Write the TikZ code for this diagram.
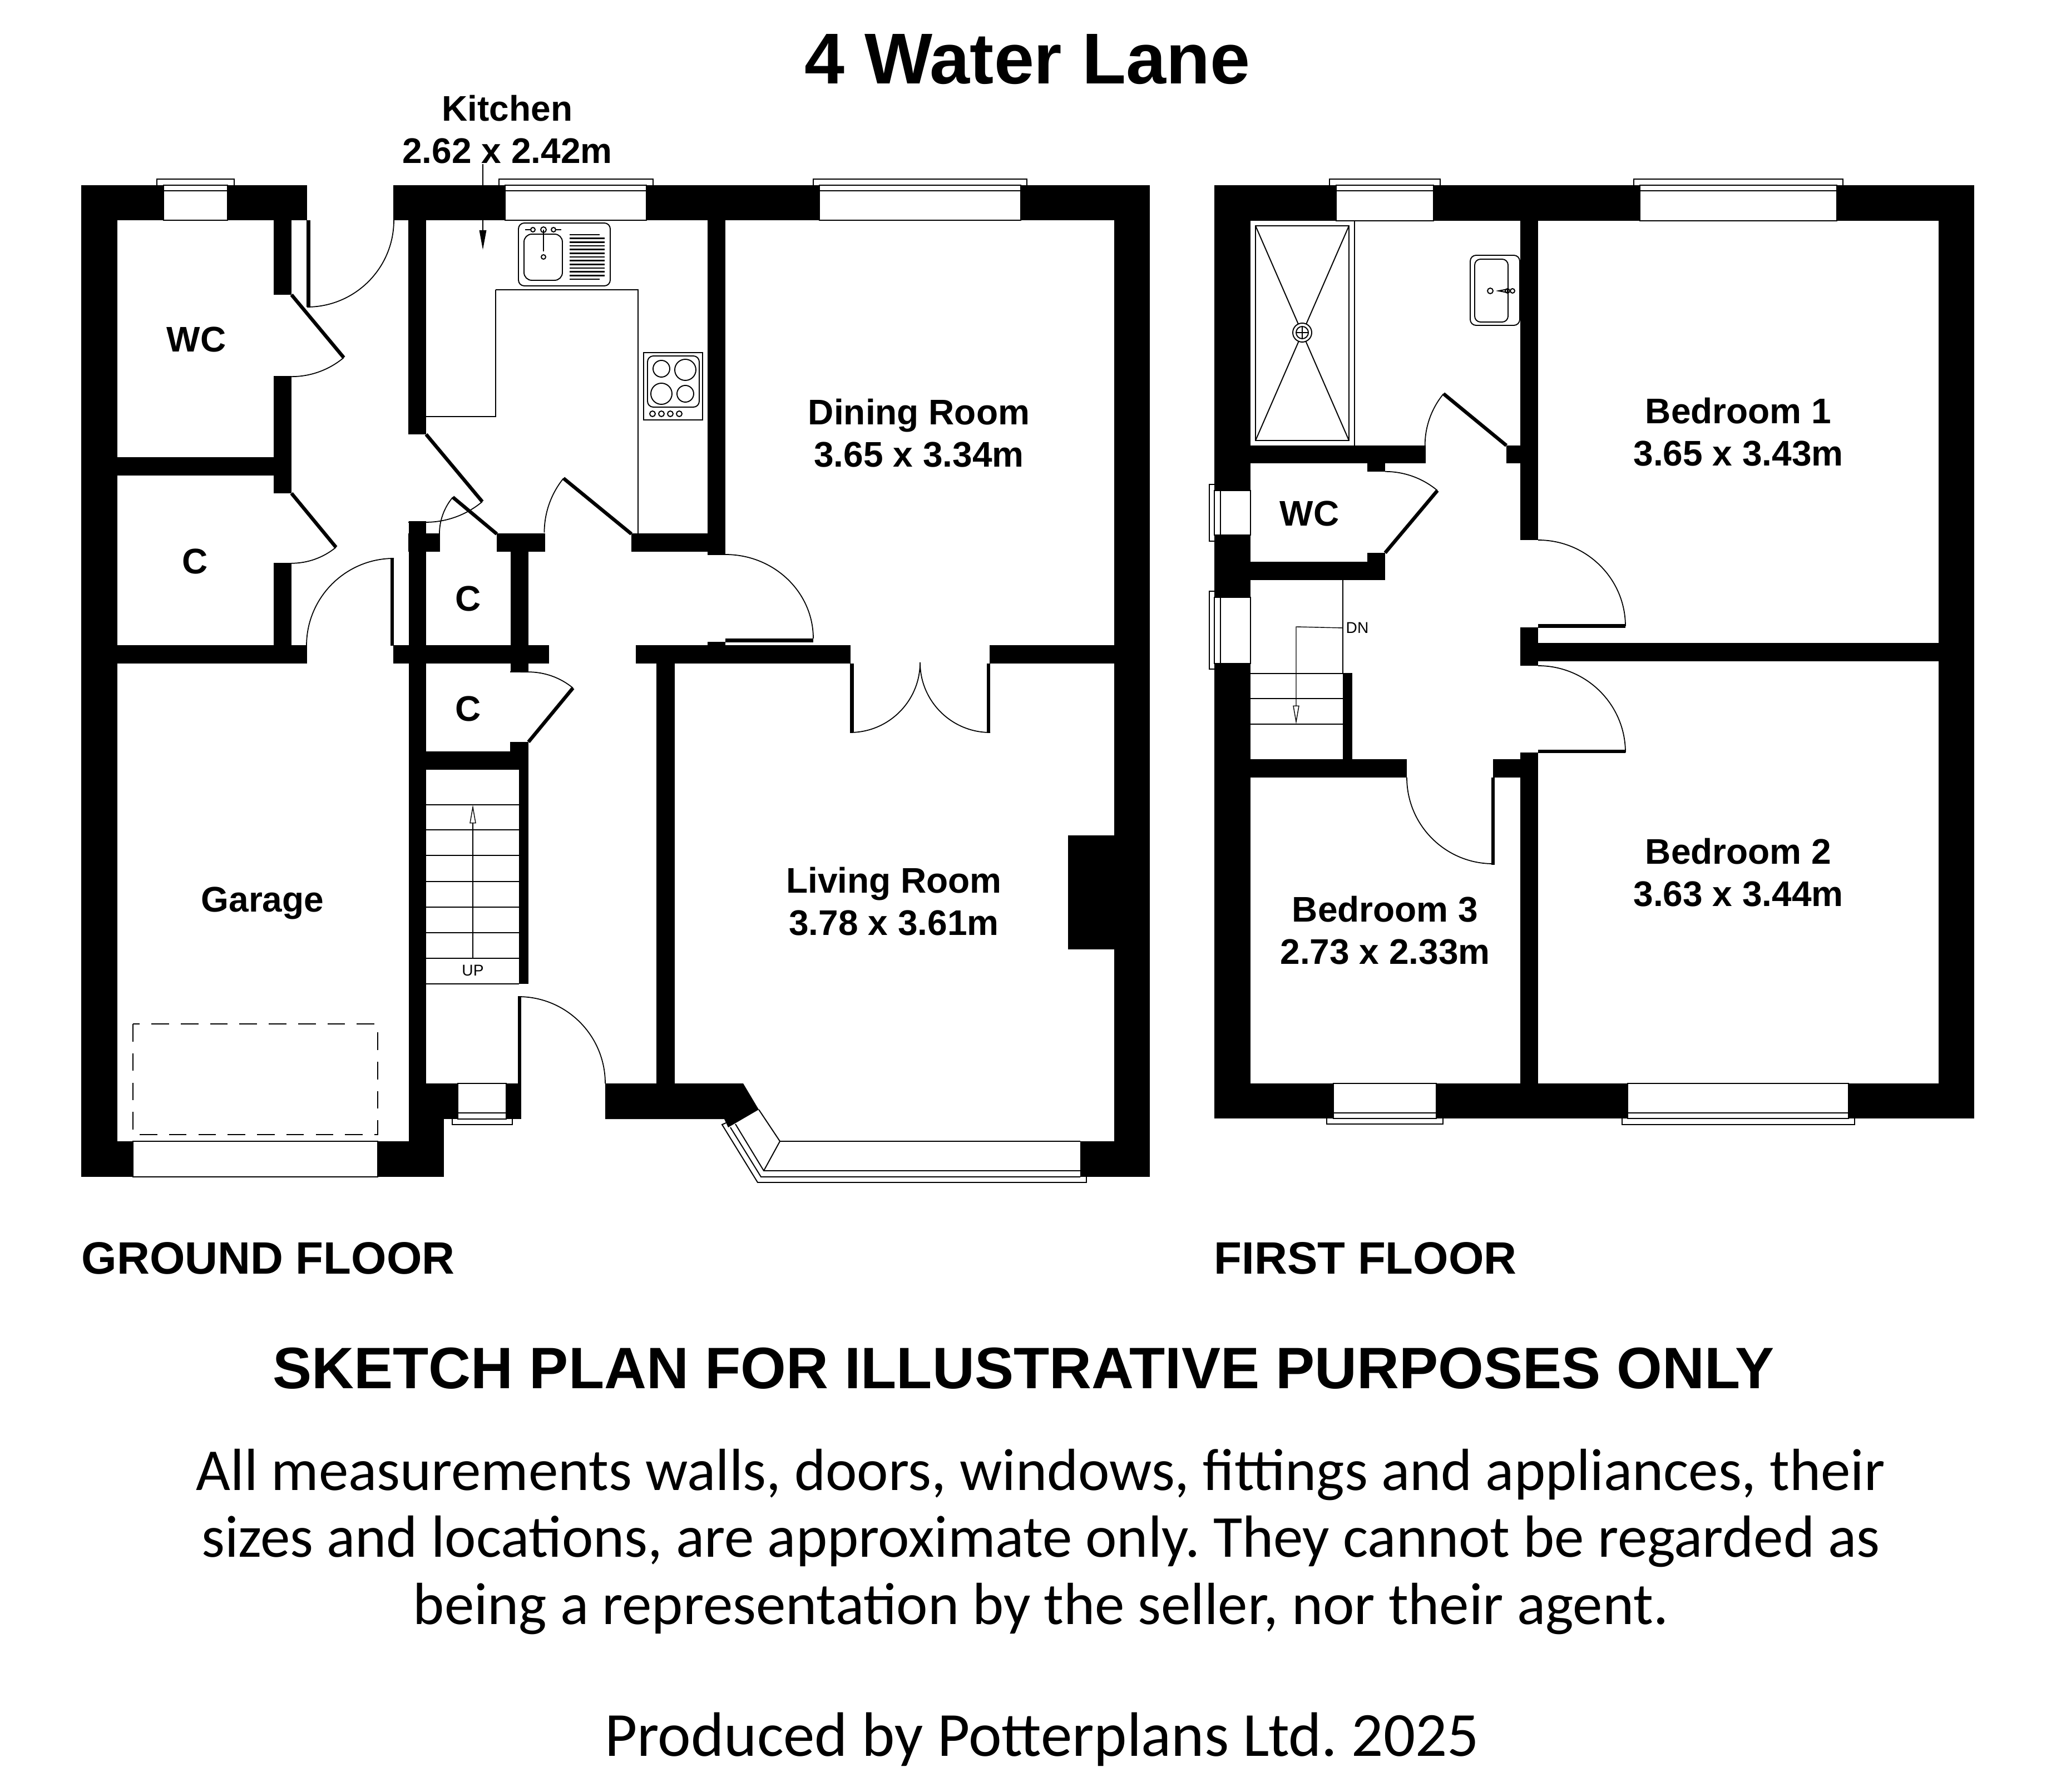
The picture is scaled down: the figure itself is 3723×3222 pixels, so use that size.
\documentclass[tikz,border=0pt]{standalone}
\usepackage{fontspec}
\setmainfont{Liberation Sans}
\newfontfamily\notefont{Carlito}
\usetikzlibrary{arrows.meta}
\tikzset{
  wall/.style={fill=black},
  fine/.style={draw=black,line width=0.55pt},
  doorleaf/.style={draw=black,line width=1.8pt},
  doorswing/.style={draw=black,line width=0.5pt},
  dashline/.style={draw=black,line width=0.4pt,dash pattern=on 9pt off 6pt},
  drainer/.style={draw=black,line width=0.8pt},
  roomlabel/.style={inner sep=0pt,align=center,font=\fontsize{18.2}{21.6}\selectfont\bfseries},
  floorlabel/.style={inner sep=0pt,anchor=west,font=\fontsize{23.2}{26}\selectfont\bfseries},
  smalllabel/.style={inner sep=0pt,font=\fontsize{8}{9}\selectfont},
  notelabel/.style={inner sep=0pt,align=center,font=\fontsize{30.4}{34.2}\selectfont\notefont\frenchspacing},
  creditlabel/.style={inner sep=0pt,font=\fontsize{32.1}{36}\selectfont\notefont\frenchspacing},
  stairarrow/.style={draw=black,line width=0.4pt,-{Triangle[open,length=9.5pt,width=3.2pt]}},
  kitchenarrow/.style={draw=black,line width=0.4pt,-{Triangle[length=10pt,width=3.6pt]}}
}
\begin{document}
\begin{tikzpicture}[x=0.01cm,y=-0.01cm]
  \useasboundingbox (0,0) rectangle (3723,3222);
  \coordinate (kitchentip) at (868,449);
  \coordinate (stairfoot) at (850,1723);
  \coordinate (stairhead) at (850,1447);
  \coordinate (landingend) at (2330,1302);

  \node[inner sep=0pt,font=\fontsize{36.8}{40}\selectfont\bfseries] (title) at (1847,107) {4 Water Lane};
  \node[roomlabel] (kitchenlbl) at (912,233) {Kitchen\\2.62 x 2.42m};
  \node[roomlabel] (wcground) at (353,610) {WC};
  \node[roomlabel] (cupboardone) at (351,1009) {C};
  \node[roomlabel] (cupboardtwo) at (842,1076) {C};
  \node[roomlabel] (cupboardthree) at (842,1274) {C};
  \node[roomlabel] (garagelbl) at (472,1624) {Garage};
  \node[roomlabel] (dininglbl) at (1652,779) {Dining Room\\3.65 x 3.34m};
  \node[roomlabel] (livinglbl) at (1607,1621) {Living Room\\3.78 x 3.61m};
  \node[roomlabel] (wcfirst) at (2354,923) {WC};
  \node[roomlabel] (bedonelbl) at (3125,777) {Bedroom 1\\3.65 x 3.43m};
  \node[roomlabel] (bedtwolbl) at (3125,1569) {Bedroom 2\\3.63 x 3.44m};
  \node[roomlabel] (bedthreelbl) at (2490,1673) {Bedroom 3\\2.73 x 2.33m};
  \node[smalllabel] (uplbl) at (850,1745) {UP};
  \node[smalllabel] (dnlbl) at (2440,1129) {DN};
  \node[floorlabel] (groundlbl) at (146,2262) {GROUND FLOOR};
  \node[floorlabel] (firstlbl) at (2182,2262) {FIRST FLOOR};
  \node[inner sep=0pt,font=\fontsize{29.9}{33}\selectfont\bfseries] (sketchlbl) at (1840,2460) {SKETCH PLAN FOR ILLUSTRATIVE PURPOSES ONLY};
  \node[notelabel] (notelbl) at (1871,2772) {All measurements walls, doors, windows, fittings and appliances, their\\sizes and locations, are approximate only. They cannot be regarded as\\being a representation by the seller, nor their agent.};
  \node[creditlabel] (producedlbl) at (1873,3127) {Produced by Potterplans Ltd. 2025};

  % ground floor walls
  \fill[wall] (146,333) rectangle (211,2116);
  \fill[wall] (146,333) rectangle (294,396);
  \fill[wall] (409,333) rectangle (552,396);
  \fill[wall] (707,333) rectangle (908,396);
  \fill[wall] (1162,333) rectangle (1473,396);
  \fill[wall] (1835,333) rectangle (2067,396);
  \fill[wall] (492,396) rectangle (524,530);
  \fill[wall] (492,676) rectangle (524,887);
  \fill[wall] (211,822) rectangle (492,855);
  \fill[wall] (492,1012) rectangle (524,1161);
  \fill[wall] (211,1160) rectangle (552,1193);
  \fill[wall] (734,396) rectangle (766,781);
  \fill[wall] (735,937) rectangle (766,2116);
  \fill[wall] (734,959) rectangle (790,992);
  \fill[wall] (893,959) rectangle (980,992);
  \fill[wall] (1135,959) rectangle (1304,992);
  \fill[wall] (1272,396) rectangle (1304,997);
  \fill[wall] (1272,1154) rectangle (1304,1161);
  \fill[wall] (918,992) rectangle (950,1209);
  \fill[wall] (707,1160) rectangle (987,1193);
  \fill[wall] (1143,1160) rectangle (1529,1193);
  \fill[wall] (1779,1160) rectangle (2067,1193);
  \fill[wall] (917,1334) rectangle (950,1384);
  \fill[wall] (735,1351) rectangle (950,1384);
  \fill[wall] (933,1384) rectangle (950,1769);
  \fill[wall] (1180,1193) rectangle (1213,1948);
  \fill[wall] (2003,333) rectangle (2067,2116);
  \fill[wall] (1920,1502) rectangle (2003,1707);
  \fill[wall] (1942,2052) rectangle (2067,2116);
  \fill[wall] (146,2052) rectangle (239,2116);
  \fill[wall] (679,2052) rectangle (798,2116);
  \fill[wall] (766,1948) rectangle (823,2012);
  \fill[wall] (766,2012) rectangle (798,2052);
  \fill[wall] (910,1948) rectangle (937,2012);
  \fill[wall] (1088,1948) -- (1336,1948) -- (1364,1995) -- (1309,2027) -- (1302,2012) -- (1088,2012) -- cycle;

  % ground floor windows
  \draw[fine] (294,333) rectangle (409,396);
  \draw[fine] (294,343) -- (409,343);
  \draw[fine] (282,333) -- (282,322) -- (421,322) -- (421,333);
  \draw[fine] (908,333) rectangle (1162,396);
  \draw[fine] (908,343) -- (1162,343);
  \draw[fine] (897,333) -- (897,322) -- (1174,322) -- (1174,333);
  \draw[fine] (1473,333) rectangle (1835,396);
  \draw[fine] (1473,343) -- (1835,343);
  \draw[fine] (1462,333) -- (1462,322) -- (1846,322) -- (1846,333);
  \draw[fine] (823,1948) rectangle (910,2012);
  \draw[fine] (823,2001) -- (910,2001);
  \draw[fine] (813,2012) -- (813,2022) -- (921,2022) -- (921,2012);
  \draw[fine] (239,2052) rectangle (679,2116);
  \draw[dashline] (239,1841) rectangle (679,2040);
  \draw[fine] (1364,1995) -- (1402,2052) -- (1942,2052);
  \draw[fine] (1402,2052) -- (1373,2105);
  \draw[fine] (1322,2021) -- (1373,2105) -- (1942,2105);
  \draw[fine] (1313,2027) -- (1368,2116) -- (1942,2116);
  \draw[fine] (1305,2019) -- (1298,2022) -- (1362,2126) -- (1953,2126) -- (1953,2116);

  % ground floor doors
  \draw[doorleaf] (554.5,396) -- (554.5,552);
  \draw[doorswing] (708,396) arc[start angle=0,end angle=90,radius=156];
  \draw[doorleaf] (524,530) -- (618,643);
  \draw[doorswing] (618,643) arc[start angle=50,end angle=90,radius=146];
  \draw[doorleaf] (524,887) -- (604,984);
  \draw[doorswing] (604,984) arc[start angle=50.5,end angle=90,radius=126];
  \draw[doorleaf] (705,1003) -- (705,1161);
  \draw[doorswing] (708,1004) arc[start angle=270,end angle=180,radius=157];
  \draw[doorleaf] (766,781) -- (867,902);
  \draw[doorswing] (867,902) arc[start angle=50,end angle=90,radius=158] -- (734,939);
  \draw[doorleaf] (893,960) -- (814,894);
  \draw[doorswing] (814,894) arc[start angle=220,end angle=180,radius=103] -- (790,992);
  \draw[doorleaf] (1135,960) -- (1013,860);
  \draw[doorswing] (1013,860) arc[start angle=219,end angle=180,radius=155];
  \draw[doorleaf] (1304,1151.5) -- (1462,1151.5);
  \draw[doorswing] (1272,997) -- (1304,997) arc[start angle=270,end angle=360,x radius=158,y radius=151];
  \draw[doorleaf] (1531.5,1193) -- (1531.5,1317);
  \draw[doorswing] (1528,1317) arc[start angle=90,end angle=0,radius=126];
  \draw[doorleaf] (1777,1193) -- (1777,1317);
  \draw[doorswing] (1780,1317) arc[start angle=90,end angle=180,radius=126];
  \draw[doorleaf] (950,1334) -- (1030,1237);
  \draw[doorswing] (1030,1237) arc[start angle=309.5,end angle=270,radius=126] -- (917,1208);
  \draw[doorleaf] (934,1791) -- (934,1948);
  \draw[doorswing] (932,1792) arc[start angle=270,end angle=360,radius=156];

  % kitchen fittings
  \draw[fine] (891,521) -- (1147,521) -- (1147,959);
  \draw[fine] (891,521) -- (891,749) -- (766,749);
  \draw[fine,rounded corners=3] (932,401) rectangle (1097,514);
  \draw[fine,rounded corners=4] (942,421) rectangle (1011,504);
  \draw[fine] (977,413) circle[radius=5];
  \draw[fine] (977,413) -- (977,452);
  \draw[fine] (977,462) circle[radius=4];
  \draw[fine] (958,413) circle[radius=4];
  \draw[fine] (995,413) circle[radius=4];
  \draw[fine] (944,413) -- (954,413);
  \draw[fine] (999,413) -- (1009,413);
  \draw[drainer] (1024,422) -- (1078,422);
  \draw[drainer] (1024,428.7) -- (1087,428.7);
  \draw[drainer] (1024,435.4) -- (1087,435.4);
  \draw[drainer] (1024,442) -- (1087,442);
  \draw[drainer] (1024,448.7) -- (1087,448.7);
  \draw[drainer] (1024,455.4) -- (1087,455.4);
  \draw[drainer] (1024,462) -- (1087,462);
  \draw[drainer] (1024,468.7) -- (1087,468.7);
  \draw[drainer] (1024,475.4) -- (1087,475.4);
  \draw[drainer] (1024,482) -- (1087,482);
  \draw[drainer] (1024,488.7) -- (1087,488.7);
  \draw[drainer] (1024,495.4) -- (1087,495.4);
  \draw[drainer] (1024,502) -- (1078,502);
  \draw[fine] (1157,634) rectangle (1263,755);
  \draw[fine,rounded corners=3] (1164,640) rectangle (1257,732);
  \draw[fine] (1189,663) circle[radius=15];
  \draw[fine] (1232,665) circle[radius=19];
  \draw[fine] (1189,708) circle[radius=19];
  \draw[fine] (1232,708) circle[radius=15];
  \draw[fine] (1173,744) circle[radius=5];
  \draw[fine] (1189,744) circle[radius=5];
  \draw[fine] (1205,744) circle[radius=5];
  \draw[fine] (1221,744) circle[radius=5];
  \draw[kitchenarrow] (kitchenlbl.south -| kitchentip) -- (kitchentip);

  % ground floor stairs
  \draw[fine] (766,1447) -- (933,1447);
  \draw[fine] (766,1492) -- (933,1492);
  \draw[fine] (766,1538) -- (933,1538);
  \draw[fine] (766,1585) -- (933,1585);
  \draw[fine] (766,1631) -- (933,1631);
  \draw[fine] (766,1677) -- (933,1677);
  \draw[fine] (766,1723) -- (933,1723);
  \draw[fine] (766,1769) -- (933,1769);
  \draw[stairarrow] (stairfoot) -- (stairhead);

  % first floor walls
  \fill[wall] (2183,333) rectangle (2248,882);
  \fill[wall] (2183,962) rectangle (2248,1074);
  \fill[wall] (2183,1193) rectangle (2248,2011);
  \fill[wall] (2183,333) rectangle (2402,397);
  \fill[wall] (2577,333) rectangle (2948,397);
  \fill[wall] (3302,333) rectangle (3549,397);
  \fill[wall] (3485,333) rectangle (3549,2011);
  \fill[wall] (2183,1948) rectangle (2397,2011);
  \fill[wall] (2582,1948) rectangle (2926,2011);
  \fill[wall] (3323,1948) rectangle (3549,2011);
  \fill[wall] (2733,397) rectangle (2765,971);
  \fill[wall] (2733,1128) rectangle (2765,1197);
  \fill[wall] (2733,1353) rectangle (2765,1948);
  \fill[wall] (2765,1156) rectangle (3485,1189);
  \fill[wall] (2248,801) rectangle (2563,833);
  \fill[wall] (2708,801) rectangle (2733,833);
  \fill[wall] (2458,833) rectangle (2490,848);
  \fill[wall] (2458,994) rectangle (2490,1043);
  \fill[wall] (2248,1010) rectangle (2490,1043);
  \fill[wall] (2414,1210) rectangle (2431,1365);
  \fill[wall] (2248,1365) rectangle (2529,1398);
  \fill[wall] (2684,1365) rectangle (2733,1398);

  % first floor windows
  \draw[fine] (2402,333) rectangle (2577,397);
  \draw[fine] (2402,343) -- (2577,343);
  \draw[fine] (2390,333) -- (2390,322) -- (2589,322) -- (2589,333);
  \draw[fine] (2948,333) rectangle (3302,397);
  \draw[fine] (2948,343) -- (3302,343);
  \draw[fine] (2937,333) -- (2937,322) -- (3313,322) -- (3313,333);
  \draw[fine] (2183,882) rectangle (2248,962);
  \draw[fine] (2194,882) -- (2194,962);
  \draw[fine] (2183,871) -- (2174,871) -- (2174,973) -- (2183,973);
  \draw[fine] (2183,1074) rectangle (2248,1193);
  \draw[fine] (2194,1074) -- (2194,1193);
  \draw[fine] (2183,1063) -- (2174,1063) -- (2174,1203) -- (2183,1203);
  \draw[fine] (2397,1948) rectangle (2582,2011);
  \draw[fine] (2397,2001) -- (2582,2001);
  \draw[fine] (2385,2011) -- (2385,2021) -- (2594,2021) -- (2594,2011);
  \draw[fine] (2926,1948) rectangle (3323,2011);
  \draw[fine] (2926,2001) -- (3323,2001);
  \draw[fine] (2916,2011) -- (2916,2022) -- (3334,2022) -- (3334,2011);

  % first floor doors
  \draw[doorleaf] (2584,882) -- (2490,994);
  \draw[doorswing] (2584,882) arc[start angle=310,end angle=270,radius=146];
  \draw[doorleaf] (2708,801) -- (2595,708);
  \draw[doorswing] (2595,708) arc[start angle=219.5,end angle=180,radius=146];
  \draw[doorleaf] (2765,1125.5) -- (2922,1125.5);
  \draw[doorswing] (2765,971) arc[start angle=270,end angle=360,x radius=157,y radius=155];
  \draw[doorleaf] (2765,1351) -- (2922,1351);
  \draw[doorswing] (2765,1197) arc[start angle=270,end angle=360,x radius=157,y radius=156];
  \draw[doorleaf] (2684,1398) -- (2684,1555);
  \draw[doorswing] (2684,1553) arc[start angle=90,end angle=180,radius=155];

  % bathroom fittings
  \draw[fine] (2435,397) -- (2435,801);
  \draw[fine] (2257,406) rectangle (2425,792);
  \draw[fine] (2257,406) -- (2425,792);
  \draw[fine] (2425,406) -- (2257,792);
  \filldraw[fine,fill=white] (2341,598) circle[radius=17];
  \draw[fine] (2341,598) circle[radius=11];
  \draw[fine] (2330,598) -- (2352,598);
  \draw[fine] (2341,587) -- (2341,609);
  \draw[fine,rounded corners=3] (2643,459) rectangle (2732,585);
  \draw[fine,rounded corners=3] (2651,466) rectangle (2711,579);
  \draw[fine] (2679,523) circle[radius=5];
  \draw[fine] (2694,523) -- (2710,520) -- (2710,526) -- cycle;
  \draw[fine] (2710,523) circle[radius=4];
  \draw[fine] (2719,523) circle[radius=4];

  % first floor stairs
  \draw[fine] (2414,1043) -- (2414,1211);
  \draw[fine] (2248,1211) -- (2414,1211);
  \draw[fine] (2248,1256) -- (2414,1256);
  \draw[fine] (2248,1302) -- (2414,1302);
  \draw[stairarrow] (dnlbl.west -| 2414,1127) -- (2330,1127) -- (landingend);
\end{tikzpicture}
\end{document}
